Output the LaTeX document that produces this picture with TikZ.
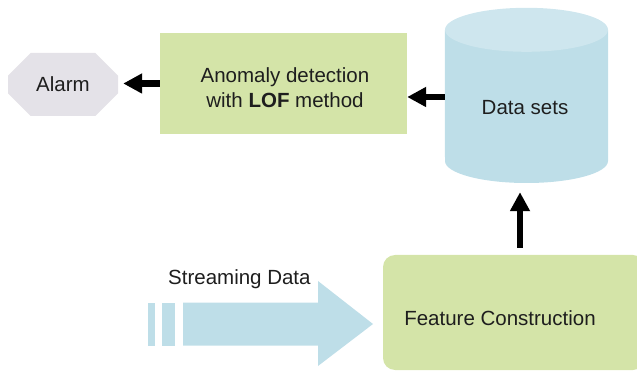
\documentclass[tikz,border=0pt]{standalone}
\usepackage{fontspec}
\setmainfont{Liberation Sans}
\usetikzlibrary{shapes.misc,arrows.meta}
\definecolor{boxgreen}{RGB}{212,228,168}
\definecolor{cylblue}{RGB}{190,222,232}
\definecolor{cyltop}{RGB}{206,230,238}
\definecolor{streamblue}{RGB}{190,222,232}
\definecolor{alarmgray}{RGB}{228,226,232}
\definecolor{txt}{RGB}{30,30,30}
\tikzset{
  alarmbox/.style={chamfered rectangle, chamfered rectangle xsep=16pt, chamfered rectangle ysep=15pt,
    fill=alarmgray, minimum width=110pt, minimum height=63pt, inner sep=0pt},
  greenbox/.style={fill=boxgreen, inner sep=0pt},
  bigarrow/.style={line width=6.5pt, -{Triangle[length=19pt,width=19pt]}, black},
  lbl/.style={text=txt, inner sep=0pt}
}
\begin{document}
\begin{tikzpicture}[x=1pt,y=1pt,font=\fontsize{20.5}{25}\selectfont]
\useasboundingbox (0,0) rectangle (637,375);
\clip (0,0) rectangle (637,375);
% Alarm
\node[alarmbox, lbl] (alarm) at (63,290.5) {Alarm};
% LOF box
\node[greenbox, minimum width=247pt, minimum height=101pt] (lof) at (283.5,291.5) {};
\node[lbl, align=center] (loftext) at (285,287) {Anomaly detection\\with \textbf{LOF} method};
% Cylinder
\node[minimum width=163pt, minimum height=153pt, inner sep=0pt] (ds) at (526.5,268.5) {};
\fill[cylblue] (ds.north west) -- (445,214) arc[start angle=180, end angle=360, x radius=81.5, y radius=22] -- (ds.north east) -- cycle;
\fill[cyltop] (ds.north) ellipse[x radius=81.5, y radius=22];
\node[lbl] (dstext) at (525,267) {Data sets};
% Feature construction
\node[greenbox, rounded corners=12pt, minimum width=262pt, minimum height=115pt] (fc) at (514,62.5) {};
\node[lbl] (fctext) at (500,57) {Feature Construction};
% Streaming arrow
\fill[streamblue] (183,72.5) -- (318,72.5) -- (318,94) -- (373,51) -- (318,9) -- (318,29.5) -- (183,29.5) -- cycle;
\fill[streamblue] (148,29.5) rectangle (155,72.5);
\fill[streamblue] (162,29.5) rectangle (175,72.5);
\node[lbl, anchor=west] (sd) at (168,96) {Streaming Data};
% connectors
\draw[bigarrow, shorten >=5pt] (lof.west) -- (lof.west -| alarm.east);
\draw[bigarrow] (ds.west |- 0,278) -- (lof.east |- 0,278);
\draw[bigarrow, shorten <=7pt, shorten >=9pt] ([xshift=-6.5pt]ds.south |- fc.north) -- ([xshift=-6.5pt]ds.south);
\end{tikzpicture}
\end{document}
